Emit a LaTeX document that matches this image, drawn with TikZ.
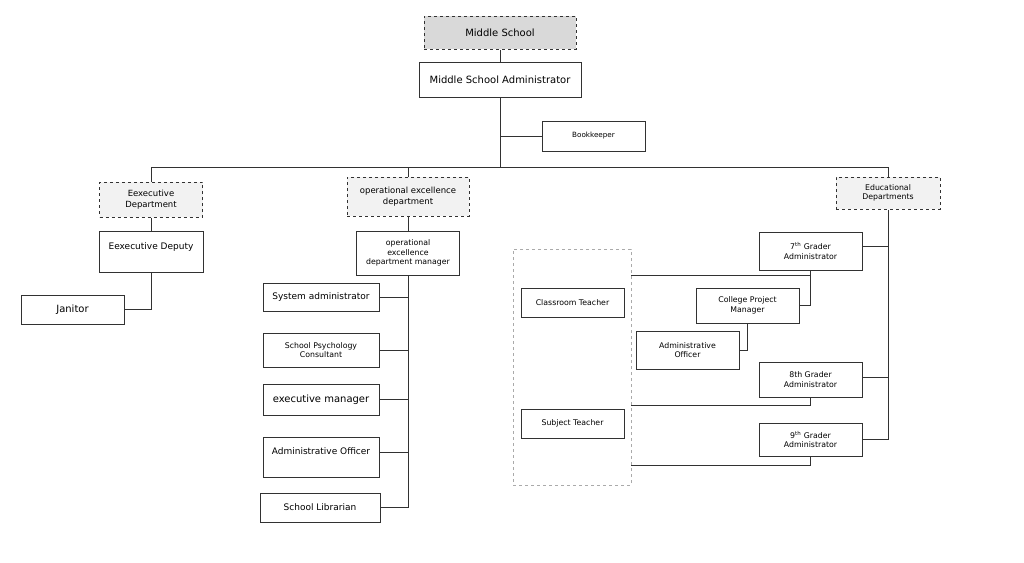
\documentclass[tikz,border=0pt]{standalone}
\usepackage{fontspec}
\setmainfont{DejaVu Sans}
\usepackage{tikz}
\usetikzlibrary{positioning,calc}
\definecolor{HeadGray}{RGB}{217,217,217}
\definecolor{DeptGray}{RGB}{242,242,242}
\definecolor{EdgeGray}{RGB}{50,50,50}
\definecolor{GroupGray}{RGB}{170,170,170}
\tikzset{unit/.style={rectangle,draw=EdgeGray,fill=white,line width=1pt,inner sep=1pt,align=center,font=\fontsize{9}{11}\selectfont}, big/.style={font=\fontsize{10}{12}\selectfont}, tiny/.style={font=\fontsize{7.8}{9.6}\selectfont}, dept/.style={unit,dashed,fill=DeptGray}, group/.style={rectangle,draw=GroupGray,dashed,line width=0.6pt}, link/.style={draw=EdgeGray,line width=1pt}}

\begin{document}
\begin{tikzpicture}[x=1pt,y=-1pt]
\useasboundingbox (0,0) rectangle (1024,562);
\node[unit,big,dashed,fill=HeadGray,minimum width=152,minimum height=33] (ms) at (500,32.5) {Middle School};
\node[unit,big,minimum width=162,minimum height=35] (msa) at (500,79.5) {Middle School Administrator};
\node[unit,font=\fontsize{7.2}{9}\selectfont,minimum width=103,minimum height=30] (bk) at (593.5,136) {Bookkeeper};
\node[dept,font=\fontsize{8.5}{10.5}\selectfont,minimum width=103,minimum height=35] (exd) at (151,199.5) {Eexecutive\\Department};
\node[unit,minimum width=104,minimum height=41] (exdep) at (151,251.5) {Eexecutive Deputy\\~};
\node[unit,big,minimum width=103,minimum height=29] (jan) at (72.5,309.5) {Janitor};
\node[dept,font=\fontsize{8.5}{10.5}\selectfont,minimum width=122,minimum height=39] (opd) at (408,196.5) {operational excellence\\department};
\node[unit,tiny,minimum width=103,minimum height=44] (opm) at (408,253) {operational\\excellence\\department manager};
\node[unit,minimum width=116,minimum height=28] (sys) at (321,297) {System administrator};
\node[unit,tiny,minimum width=116,minimum height=34] (psy) at (321,350) {School Psychology\\Consultant};
\node[unit,big,minimum width=116,minimum height=31] (exm) at (321,399.5) {executive manager};
\node[unit,minimum width=116,minimum height=40] (aol) at (321,457) {Administrative Officer\\~};
\node[unit,minimum width=120,minimum height=29] (lib) at (320,507.5) {School Librarian};
\node[dept,tiny,minimum width=104,minimum height=32] (edd) at (888,193) {Educational\\Departments};
\node[unit,tiny,minimum width=103,minimum height=38] (g7) at (810.5,251) {7\textsuperscript{th} Grader\\Administrator};
\node[unit,tiny,minimum width=103,minimum height=35] (g8) at (810.5,379.5) {8th Grader\\Administrator};
\node[unit,tiny,minimum width=103,minimum height=33] (g9) at (810.5,439.5) {9\textsuperscript{th} Grader\\Administrator};
\node[group,minimum width=118,minimum height=236] (grp) at (572,367) {};
\node[unit,tiny,minimum width=103,minimum height=29] (ct) at (572.5,302.5) {Classroom Teacher};
\node[unit,tiny,minimum width=103,minimum height=29] (st) at (572.5,423.5) {Subject Teacher};
\node[unit,tiny,minimum width=103,minimum height=35] (cpm) at (747.5,305.5) {College Project\\Manager};
\node[unit,tiny,minimum width=103,minimum height=38] (aor) at (687.5,350) {Administrative\\Officer};
\draw[link] (ms.south) -- (msa.north);
\draw[link] (msa.south) -- (msa.south |- 0,167);
\draw[link] (bk.west) -- (bk.west -| msa.south);
\draw[link] (exd.north) |- (edd.north |- 0,167) -- (edd.north);
\draw[link] (opd.north) -- (opd.north |- 0,167);
\draw[link] (exd.south) -- (exdep.north);
\draw[link] (exdep.south) |- (jan.east);
\draw[link] (opd.south) -- (opm.north);
\draw[link] (opm.south) |- (lib.east);
\draw[link] (sys.east) -- (sys.east -| opm.south);
\draw[link] (psy.east) -- (psy.east -| opm.south);
\draw[link] (exm.east) -- (exm.east -| opm.south);
\draw[link] ([yshift=5pt]aol.east) -- ([yshift=5pt]aol.east -| opm.south);
\draw[link] (edd.south) |- (g9.east);
\draw[link] ([yshift=5pt]g7.east) -- ([yshift=5pt]g7.east -| edd.south);
\draw[link] ([yshift=2pt]g8.east) -- ([yshift=2pt]g8.east -| edd.south);
\draw[link] (g7.south) |- (grp.east |- 0,275);
\draw[link] (cpm.east) -| (g7.south |- 0,275);
\draw[link] (aor.east) -| (cpm.south);
\draw[link] (g8.south) |- (grp.east |- 0,405);
\draw[link] (g9.south) |- (grp.east |- 0,465);
\end{tikzpicture}
\end{document}
